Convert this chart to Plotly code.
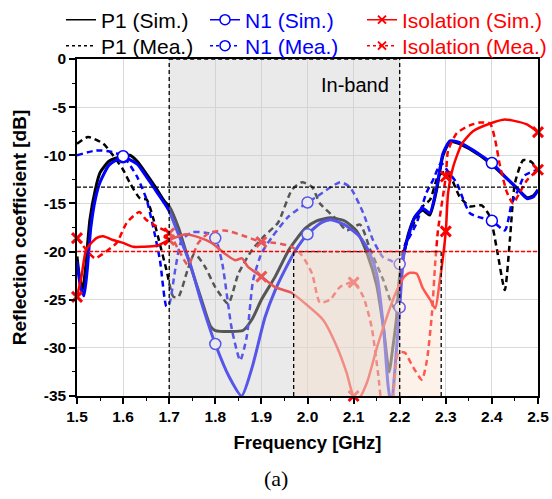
import plotly.graph_objects as go

# ---------------- data ----------------
p1_sim_f = [1.500, 1.505, 1.512, 1.518, 1.528, 1.540, 1.550, 1.570, 1.600, 1.615, 1.630, 1.650,
            1.670, 1.690, 1.700, 1.720, 1.735, 1.749, 1.770, 1.790, 1.800, 1.830, 1.860, 1.880,
            1.900, 1.930, 1.960, 1.995, 2.020, 2.050, 2.080, 2.107, 2.130, 2.150, 2.165, 2.177,
            2.185, 2.193, 2.200, 2.210, 2.220, 2.233, 2.250, 2.265, 2.280, 2.294, 2.309, 2.324,
            2.350, 2.396, 2.430, 2.454, 2.476, 2.490, 2.500]
p1_sim_db = [-20.5, -22.5, -24.0, -22.0, -16.7, -13.5, -11.8, -10.6, -10.1, -10.0, -10.6, -11.9,
             -13.3, -14.8, -15.3, -17.5, -19.8, -21.9, -25.0, -27.8, -28.2, -28.3, -28.2, -27.0,
             -25.0, -22.6, -19.8, -17.6, -16.8, -16.5, -16.8, -17.9, -20.3, -23.5, -28.0, -32.5,
             -30.0, -27.0, -22.5, -20.0, -18.0, -16.4, -15.7, -16.2, -13.6, -10.0, -8.6, -8.7,
             -9.3, -10.8, -12.3, -13.4, -14.4, -14.2, -13.6]

n1_sim_f = [1.500, 1.507, 1.515, 1.522, 1.530, 1.540, 1.550, 1.570, 1.600, 1.630, 1.650, 1.670,
            1.690, 1.700, 1.720, 1.745, 1.770, 1.800, 1.830, 1.857, 1.880, 1.908, 1.930, 1.951,
            1.975, 2.000, 2.030, 2.050, 2.080, 2.114, 2.135, 2.150, 2.165, 2.175, 2.182, 2.190,
            2.200, 2.210, 2.233, 2.250, 2.265, 2.280, 2.294, 2.309, 2.324, 2.350, 2.400, 2.430,
            2.454, 2.476, 2.490, 2.500]
n1_sim_db = [-21.0, -23.5, -24.6, -22.0, -17.5, -14.5, -12.8, -11.0, -10.2, -10.9, -12.2, -13.6,
             -15.0, -15.8, -18.2, -21.2, -25.3, -29.6, -33.0, -35.0, -32.0, -26.8, -24.0, -21.9,
             -19.8, -18.2, -17.0, -16.7, -17.2, -18.5, -20.2, -22.3, -28.0, -34.0, -36.0, -32.0,
             -25.8, -20.0, -16.4, -15.5, -16.0, -13.4, -9.8, -8.5, -8.6, -9.2, -10.8, -12.3,
             -13.4, -14.5, -14.3, -13.6]

p1_mea_f = [1.500, 1.524, 1.557, 1.578, 1.600, 1.615, 1.637, 1.651, 1.665, 1.676, 1.694, 1.709,
            1.720, 1.740, 1.755, 1.778, 1.800, 1.828, 1.850, 1.880, 1.908, 1.936, 1.966, 1.988,
            2.010, 2.027, 2.064, 2.085, 2.114, 2.136, 2.164, 2.179, 2.190, 2.197, 2.208, 2.237,
            2.250, 2.266, 2.283, 2.298, 2.313, 2.330, 2.352, 2.378, 2.396, 2.411, 2.428, 2.439,
            2.450, 2.468, 2.486, 2.500]
p1_mea_db = [-8.8, -8.1, -8.8, -10.0, -11.5, -12.9, -14.5, -14.6, -16.5, -18.5, -21.9, -24.7,
             -24.7, -21.9, -20.2, -21.6, -23.7, -25.4, -22.3, -19.8, -18.3, -17.0, -13.6, -12.8,
             -13.3, -15.0, -16.7, -17.8, -17.2, -19.8, -22.9, -25.0, -26.0, -24.0, -19.8, -16.4,
             -15.3, -14.6, -12.2, -11.7, -12.5, -14.3, -15.3, -15.2, -16.4, -19.8, -24.0, -18.8,
             -12.9, -10.5, -10.7, -11.7]

n1_mea_f = [1.500, 1.542, 1.571, 1.600, 1.630, 1.651, 1.665, 1.680, 1.694, 1.700, 1.713, 1.727,
            1.750, 1.785, 1.800, 1.815, 1.836, 1.854, 1.868, 1.882, 1.900, 1.923, 1.958, 2.000,
            2.020, 2.071, 2.092, 2.121, 2.142, 2.164, 2.179, 2.200, 2.215, 2.237, 2.258, 2.272,
            2.290, 2.305, 2.324, 2.338, 2.352, 2.370, 2.400, 2.428, 2.443, 2.457, 2.471, 2.500]
n1_mea_db = [-10.0, -9.5, -9.6, -10.1, -12.2, -14.6, -17.4, -20.9, -25.7, -25.5, -21.9, -18.8,
             -18.0, -18.1, -18.6, -21.2, -28.1, -31.3, -28.9, -23.0, -20.2, -18.5, -16.4, -14.9,
             -14.3, -12.8, -13.3, -16.0, -18.8, -20.6, -20.9, -21.3, -19.1, -17.0, -13.9, -12.6,
             -10.8, -11.7, -12.9, -14.6, -16.0, -16.4, -16.8, -17.8, -15.0, -13.6, -12.1, -11.5]

iso_sim_f = [1.500, 1.510, 1.520, 1.542, 1.557, 1.578, 1.600, 1.622, 1.643, 1.673, 1.700, 1.735,
             1.763, 1.792, 1.820, 1.843, 1.858, 1.871, 1.900, 1.930, 1.966, 1.995, 2.034, 2.064,
             2.085, 2.100, 2.112, 2.129, 2.151, 2.172, 2.194, 2.210, 2.222, 2.237, 2.250, 2.266,
             2.277, 2.287, 2.300, 2.305, 2.316, 2.335, 2.359, 2.396, 2.425, 2.446, 2.476, 2.500]
iso_sim_db = [-24.7, -22.5, -19.8, -18.6, -18.4, -18.8, -19.1, -19.5, -19.5, -19.4, -18.8, -18.2,
              -18.5, -19.1, -20.2, -20.9, -20.7, -21.6, -22.6, -23.7, -24.3, -25.4, -27.1, -29.9,
              -32.6, -35.0, -35.2, -33.6, -29.9, -26.8, -24.0, -22.6, -22.2, -22.3, -23.8, -25.0,
              -25.9, -23.0, -17.9, -13.9, -11.2, -8.8, -7.5, -6.7, -6.3, -6.4, -6.8, -7.6]

iso_mea_f = [1.500, 1.520, 1.539, 1.557, 1.586, 1.608, 1.635, 1.650, 1.673, 1.700, 1.720, 1.741,
             1.763, 1.785, 1.820, 1.858, 1.900, 1.930, 1.966, 1.988, 2.010, 2.027, 2.049, 2.070,
             2.100, 2.121, 2.139, 2.153, 2.165, 2.180, 2.197, 2.211, 2.229, 2.248, 2.259, 2.270,
             2.277, 2.283, 2.300, 2.305, 2.324, 2.352, 2.374, 2.396, 2.407, 2.418, 2.433, 2.446,
             2.460, 2.476, 2.500]
iso_mea_db = [-18.6, -19.8, -20.7, -20.2, -19.1, -17.0, -15.9, -16.7, -17.4, -18.1, -19.8, -21.4,
              -19.1, -18.1, -17.8, -18.3, -19.0, -19.1, -19.5, -20.4, -22.3, -25.3, -25.0, -23.7,
              -23.2, -24.7, -27.8, -32.6, -36.5, -36.5, -30.5, -30.5, -32.0, -33.3, -31.3, -26.4,
              -21.2, -17.8, -12.2, -9.5, -7.7, -6.9, -6.6, -6.7, -8.4, -11.2, -13.9, -15.0,
              -13.9, -12.6, -11.5]

n1_marks = [1.6, 1.8, 2.0, 2.2, 2.4]
iso_marks = [1.5, 1.7, 1.9, 2.1, 2.3, 2.5]

legend_names = ["P1 (Sim.)", "N1 (Sim.)", "Isolation (Sim.)",
                "P1 (Mea.)", "N1 (Mea.)", "Isolation (Mea.)"]

inband = (1.7, 2.2)
subband = (1.97, 2.29)
ref_level_black = -13.3
ref_level_red = -20.0

x_ticks = [1.5, 1.6, 1.7, 1.8, 1.9, 2.0, 2.1, 2.2, 2.3, 2.4, 2.5]
y_ticks = [0, -5, -10, -15, -20, -25, -30, -35]

# ---------------- styling ----------------
BLACK = "#000000"
BLUE = "#0000ff"
RED = "#ff0000"
FONT = "Liberation Sans"

W, H = 552, 499
ML, MR, MT, MB = 77, 14, 59, 103
PW, PH = W - ML - MR, H - MT - MB


def px_to_paper_x(px):
    return (px - ML) / PW


def px_to_paper_y(py):
    return 1 + (MT - py) / PH


def pick(f, v, marks):
    xs, ys = [], []
    for fx, vy in zip(f, v):
        if any(abs(fx - m) < 1e-9 for m in marks):
            xs.append(fx)
            ys.append(vy)
    return xs, ys


fig = go.Figure()

series = [
    (p1_sim_f, p1_sim_db, BLACK, "solid", 3, None, None),
    (p1_mea_f, p1_mea_db, BLACK, "dash", 2.5, None, None),
    (n1_sim_f, n1_sim_db, BLUE, "solid", 3, "circle", n1_marks),
    (n1_mea_f, n1_mea_db, BLUE, "dash", 2.5, "circle", n1_marks),
    (iso_sim_f, iso_sim_db, RED, "solid", 2.5, "x-thin", iso_marks),
    (iso_mea_f, iso_mea_db, RED, "dash", 2.5, "x-thin", iso_marks),
]

for f, v, col, dash, w, sym, marks in series:
    fig.add_trace(go.Scatter(
        x=f, y=v, mode="lines",
        line=dict(color=col, width=w, dash="6px,4px" if dash == "dash" else "solid",
                  shape="spline", smoothing=0.6),
        showlegend=False, hoverinfo="skip"))
    if sym is not None:
        mx, my = pick(f, v, marks)
        if sym == "circle":
            mk = dict(symbol="circle", size=11, color="white",
                      line=dict(color=col, width=1.5))
        else:
            mk = dict(symbol="x-thin", size=10, color=col,
                      line=dict(color=col, width=3))
        fig.add_trace(go.Scatter(x=mx, y=my, mode="markers", marker=mk,
                                 showlegend=False, hoverinfo="skip", cliponaxis=False))

# legend entries: one small legend per entry, laid out as 2 rows x 3 columns
leg_style = {
    "P1 (Sim.)": (BLACK, "solid", None),
    "N1 (Sim.)": (BLUE, "solid", "circle"),
    "Isolation (Sim.)": (RED, "solid", "x-thin"),
    "P1 (Mea.)": (BLACK, "dash", None),
    "N1 (Mea.)": (BLUE, "dash", "circle"),
    "Isolation (Mea.)": (RED, "dash", "x-thin"),
}
col_px = [61, 205, 362]     # left edge of each legend column (pixels)
row_px = [20, 46]           # vertical centre of each legend row (pixels)
legend_layouts = {}
for k, name in enumerate(legend_names):
    col, dash, sym = leg_style[name]
    lid = "legend" if k == 0 else f"legend{k + 1}"
    kw = dict(mode="lines")
    if sym == "circle":
        kw = dict(mode="lines+markers",
                  marker=dict(symbol="circle", size=10, color="white", line=dict(color=col, width=1.5)))
    elif sym == "x-thin":
        kw = dict(mode="lines+markers",
                  marker=dict(symbol="x-thin", size=8, color=col, line=dict(color=col, width=2)))
    fig.add_trace(go.Scatter(
        x=[None], y=[None], name=f'<span style="color:{col}">{name}</span>',
        line=dict(color=col, width=1.5, dash="3px,3px" if dash == "dash" else "solid"),
        showlegend=True, legend=lid, **kw))
    legend_layouts[lid] = dict(
        x=px_to_paper_x(col_px[k % 3]), y=px_to_paper_y(row_px[k // 3]),
        xanchor="left", yanchor="middle", orientation="v",
        font=dict(family=FONT, size=21, color=BLACK),
        bgcolor="rgba(0,0,0,0)", borderwidth=0, itemwidth=30)

# shaded regions (drawn above curves, semi-transparent)
fig.add_shape(type="rect", xref="x", yref="y", x0=inband[0], x1=inband[1], y0=-35, y1=0,
              fillcolor="rgba(205,205,205,0.42)", line=dict(width=0), layer="above")
fig.add_shape(type="rect", xref="x", yref="y", x0=subband[0], x1=subband[1], y0=-35, y1=ref_level_red,
              fillcolor="rgba(250,222,200,0.40)", line=dict(width=0), layer="above")

dl = dict(color=BLACK, width=1.3, dash="4px,3px")
for x0, x1, y0, y1 in [
    (inband[0], inband[0], -35, 0), (inband[1], inband[1], -35, 0), (inband[0], inband[1], 0, 0),
    (subband[0], subband[0], -35, ref_level_red), (subband[1], subband[1], -35, ref_level_red),
    (subband[0], subband[1], ref_level_red, ref_level_red),
]:
    fig.add_shape(type="line", xref="x", yref="y", x0=x0, x1=x1, y0=y0, y1=y1, line=dl, layer="above")

fig.add_shape(type="line", xref="x", yref="y", x0=1.5, x1=2.5, y0=ref_level_black, y1=ref_level_black,
              line=dict(color=BLACK, width=1.3, dash="4px,2px"), layer="above")
fig.add_shape(type="line", xref="x", yref="y", x0=1.5, x1=2.5, y0=ref_level_red, y1=ref_level_red,
              line=dict(color=RED, width=1.5, dash="4px,2px"), layer="above")

fig.add_annotation(x=2.103, y=-2.7, xref="x", yref="y", text="In-band", showarrow=False,
                   xanchor="center", yanchor="middle",
                   font=dict(family=FONT, size=20, color=BLACK))
fig.add_annotation(x=px_to_paper_x(276), y=px_to_paper_y(478), xref="paper", yref="paper",
                   text="(a)", showarrow=False, xanchor="center", yanchor="middle",
                   font=dict(family="Liberation Serif", size=22, color=BLACK))

axis_common = dict(showline=True, linecolor=BLACK, linewidth=1.5, mirror=True,
                   ticks="outside", ticklen=6, tickwidth=1.5, tickcolor=BLACK,
                   showgrid=True, gridcolor="#d9d9d9", gridwidth=1, zeroline=False,
                   tickfont=dict(family=FONT, size=15.5, color=BLACK, weight="bold"))

fig.update_xaxes(range=[1.5, 2.5], tickvals=x_ticks, ticktext=[f"{t:.1f}" for t in x_ticks],
                 minor=dict(dtick=0.05, tick0=1.5, ticks="outside", ticklen=3, tickwidth=1.2,
                            tickcolor=BLACK, showgrid=False),
                 title=dict(text="Frequency [GHz]", font=dict(family=FONT, size=18.5, weight="bold", color=BLACK),
                            standoff=12),
                 **axis_common)
fig.update_yaxes(range=[-35, 0], tickvals=y_ticks, ticktext=[str(t) for t in y_ticks],
                 minor=dict(dtick=2.5, tick0=0, ticks="outside", ticklen=3, tickwidth=1.2,
                            tickcolor=BLACK, showgrid=False),
                 title=dict(text="Reflection coefficient [dB]",
                            font=dict(family=FONT, size=19, weight="bold", color=BLACK), standoff=12),
                 **axis_common)

fig.update_layout(
    width=W, height=H,
    margin=dict(l=ML, r=MR, t=MT, b=MB, autoexpand=False),
    paper_bgcolor="white", plot_bgcolor="white",
    font=dict(family=FONT),
    **legend_layouts,
)

fig.write_html("out.html", config={"displayModeBar": False},
               post_script="document.body.style.margin='0';document.body.style.padding='0';")
